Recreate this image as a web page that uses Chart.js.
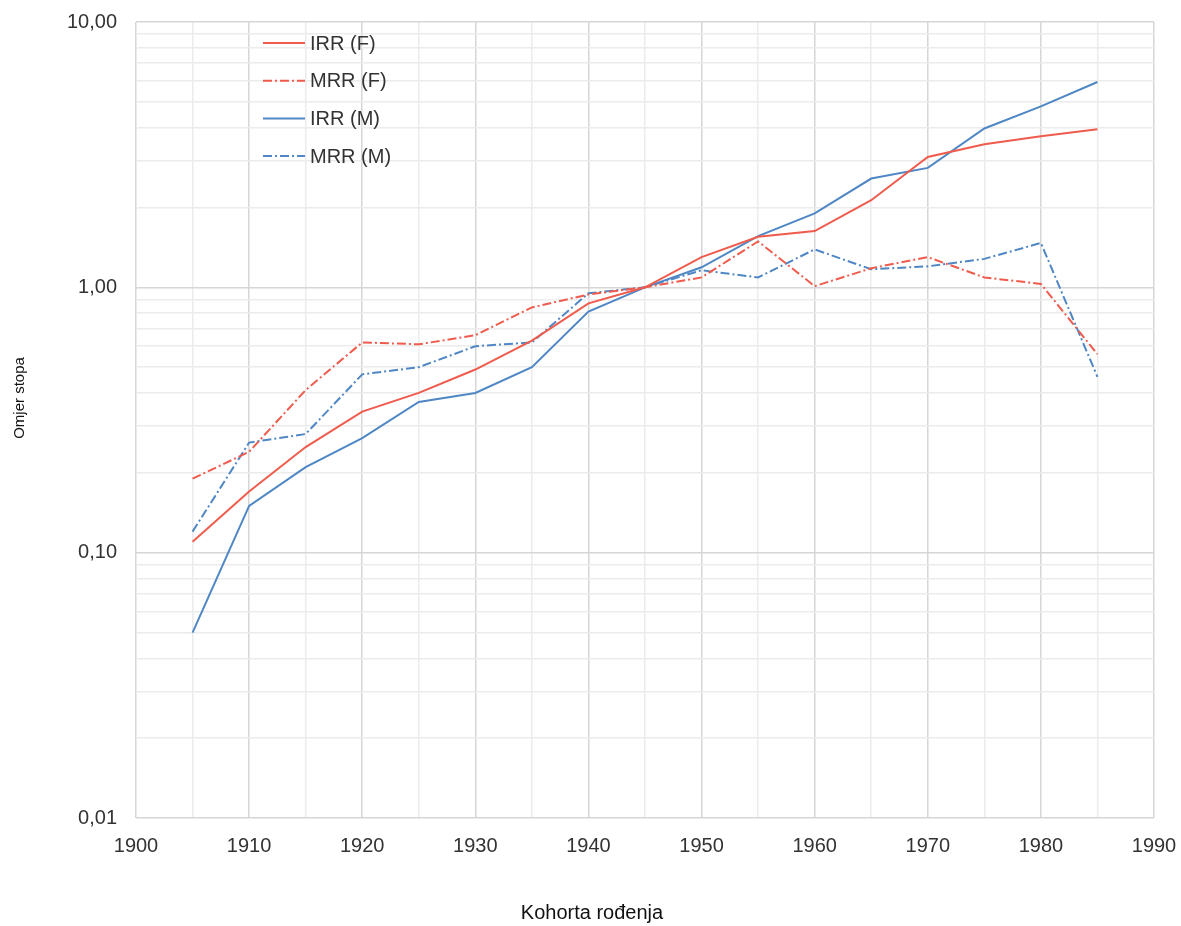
<!DOCTYPE html>
<html>
<head>
<meta charset="utf-8">
<script src="https://cdn.jsdelivr.net/npm/chart.js@4"></script>
<style>
  html, body { margin: 0; padding: 0; background: #fff; }
  #wrap { width: 1181px; height: 926px; }
</style>
</head>
<body>
<div id="wrap"><canvas id="myChart" width="1181" height="926"></canvas></div>
<script>
// Kohorte (godine rođenja)
const godine = [1905, 1910, 1915, 1920, 1925, 1930, 1935, 1940, 1945, 1950, 1955, 1960, 1965, 1970, 1975, 1980, 1985];

// Vrijednosti očitane sa slike
const irrF = [0.11, 0.17, 0.25, 0.34, 0.40, 0.49, 0.63, 0.87, 1.00, 1.30, 1.55, 1.63, 2.13, 3.10, 3.46, 3.71, 3.94];
const mrrF = [0.19, 0.24, 0.41, 0.62, 0.61, 0.66, 0.84, 0.94, 1.00, 1.09, 1.49, 1.01, 1.18, 1.30, 1.09, 1.03, 0.56];
const irrM = [0.05, 0.15, 0.21, 0.27, 0.37, 0.40, 0.50, 0.81, 1.00, 1.19, 1.56, 1.90, 2.57, 2.82, 3.97, 4.81, 5.94];
const mrrM = [0.12, 0.26, 0.28, 0.47, 0.50, 0.60, 0.62, 0.95, 1.00, 1.16, 1.09, 1.39, 1.17, 1.20, 1.28, 1.47, 0.46];

const nazivi = ['IRR (F)', 'MRR (F)', 'IRR (M)', 'MRR (M)'];

// Oznake osi
const yTickVrijednosti = [
    0.01, 0.02, 0.03, 0.04, 0.05, 0.06, 0.07, 0.08, 0.09,
    0.1, 0.2, 0.3, 0.4, 0.5, 0.6, 0.7, 0.8, 0.9,
    1, 2, 3, 4, 5, 6, 7, 8, 9, 10
];
const yTickOznake = { 0.01: '0,01', 0.1: '0,10', 1: '1,00', 10: '10,00' };
const xTickOznake = [1900, 1910, 1920, 1930, 1940, 1950, 1960, 1970, 1980, 1990];
const naslovX = 'Kohorta rođenja';
const naslovY = 'Omjer stopa';

const crvena = '#ef5b4c';
const plava = '#4f87c4';
const crtaTocka = [9, 3, 2, 3];
const FONT = 'Liberation Sans, Arial, Helvetica, sans-serif';

function uTocke(vrijednosti) {
    return godine.map((g, i) => ({ x: g, y: vrijednosti[i] }));
}

// Legenda unutar područja grafa (okomito, gore lijevo) i naslovi osi
const legendaPlugin = {
    id: 'legendaUnutra',
    afterDraw(chart) {
        const ctx = chart.ctx;
        ctx.save();
        chart.data.datasets.forEach((ds, i) => {
            const y = 43 + i * 37.7;
            ctx.strokeStyle = ds.borderColor;
            ctx.lineWidth = 2;
            ctx.setLineDash(ds.borderDash || []);
            ctx.beginPath();
            ctx.moveTo(263, y);
            ctx.lineTo(305, y);
            ctx.stroke();
            ctx.setLineDash([]);
            ctx.fillStyle = '#333';
            ctx.font = '20px ' + FONT;
            ctx.textBaseline = 'middle';
            ctx.textAlign = 'left';
            ctx.fillText(ds.label, 310, y + 1);
        });

        ctx.fillStyle = '#111';
        ctx.textAlign = 'center';
        ctx.textBaseline = 'middle';
        ctx.font = '20px ' + FONT;
        ctx.fillText(naslovX, 592, 913);

        ctx.translate(20, 398);
        ctx.rotate(-Math.PI / 2);
        ctx.font = '15px ' + FONT;
        ctx.fillText(naslovY, 0, 0);
        ctx.restore();
    }
};

let myChart;

function crearGrafico() {
    const ctx = document.getElementById('myChart').getContext('2d');
    myChart = new Chart(ctx, {
        type: 'line',
        data: {
            datasets: [{
                label: nazivi[0],
                data: uTocke(irrF),
                borderColor: crvena,
                backgroundColor: crvena,
                borderWidth: 2,
                fill: false
            }, {
                label: nazivi[1],
                data: uTocke(mrrF),
                borderColor: crvena,
                backgroundColor: crvena,
                borderWidth: 2,
                borderDash: crtaTocka,
                fill: false
            }, {
                label: nazivi[2],
                data: uTocke(irrM),
                borderColor: plava,
                backgroundColor: plava,
                borderWidth: 2,
                fill: false
            }, {
                label: nazivi[3],
                data: uTocke(mrrM),
                borderColor: plava,
                backgroundColor: plava,
                borderWidth: 2,
                borderDash: crtaTocka,
                fill: false
            }]
        },
        options: {
            responsive: false,
            animation: false,
            devicePixelRatio: 1,
            elements: { point: { radius: 0 }, line: { tension: 0 } },
            layout: { padding: { top: 22, right: 27, left: 0, bottom: 0 } },
            plugins: {
                legend: { display: false },
                tooltip: { enabled: false }
            },
            scales: {
                x: {
                    type: 'linear',
                    min: 1900,
                    max: 1990,
                    afterBuildTicks: s => {
                        const t = [];
                        for (let v = 1900; v <= 1990; v += 5) t.push({ value: v });
                        s.ticks = t;
                    },
                    afterFit: s => {
                        s.height = 108;
                        s.paddingLeft = 0;
                        s.paddingRight = 0;
                    },
                    border: { display: false },
                    grid: {
                        drawTicks: false,
                        lineWidth: 1.5,
                        color: c => xTickOznake.includes(c.tick && c.tick.value) ? '#d6d6d6' : '#ececec'
                    },
                    ticks: {
                        autoSkip: false,
                        maxRotation: 0,
                        padding: 16,
                        color: '#333',
                        font: { family: FONT, size: 20 },
                        callback: v => xTickOznake.includes(v) ? String(v) : ''
                    }
                },
                y: {
                    type: 'logarithmic',
                    min: 0.01,
                    max: 10,
                    afterBuildTicks: s => {
                        s.ticks = yTickVrijednosti.map(v => ({ value: v }));
                    },
                    afterFit: s => {
                        s.width = 136;
                        s.paddingTop = 0;
                        s.paddingBottom = 0;
                    },
                    border: { display: false },
                    grid: {
                        drawTicks: false,
                        lineWidth: 1.5,
                        color: c => (c.tick && yTickOznake[c.tick.value]) ? '#d6d6d6' : '#ececec'
                    },
                    ticks: {
                        autoSkip: false,
                        padding: 19,
                        color: '#333',
                        font: { family: FONT, size: 20 },
                        callback: v => yTickOznake[v] || ''
                    }
                }
            }
        },
        plugins: [legendaPlugin]
    });
}

crearGrafico();
</script>
</body>
</html>
